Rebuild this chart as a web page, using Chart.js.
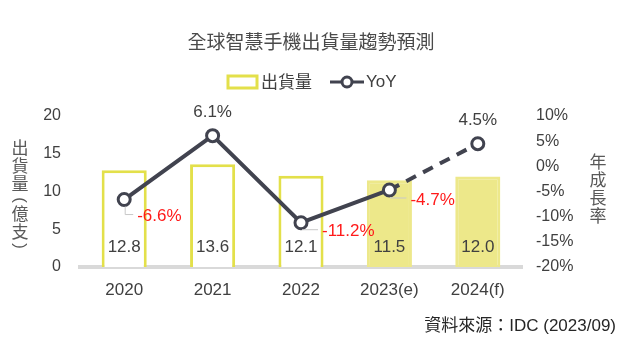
<!DOCTYPE html>
<html>
<head>
<meta charset="utf-8">
<script src="https://cdn.jsdelivr.net/npm/chart.js@4.4.0/dist/chart.umd.min.js"></script>
<style>
  html, body { margin: 0; padding: 0; background: #fff; }
  #wrap { width: 623px; height: 345px; }
</style>
</head>
<body>
<div id="wrap"><canvas id="chart" width="623" height="345"></canvas></div>
<script>
// data
const categories = ['2020', '2021', '2022', '2023(e)', '2024(f)'];
const shipments = [12.8, 13.6, 12.1, 11.5, 12.0];   // 億支
const yoy = [-6.6, 6.1, -11.2, -4.7, 4.5];          // %
const forecastFrom = 3;  // bars from this index are estimates (filled)

const FONT = '"Liberation Sans", Arial, "Noto Sans CJK TC", sans-serif';
const CJK = '"Noto Sans CJK TC", "Liberation Sans", sans-serif';
const YELLOW = '#e3e04a';
const YELLOW_FILL = '#ede88a';
const DARK = '#41434f';
const TEXT = '#404040';
const RED = '#ff1a1a';

// offsets for the red (negative) yoy labels, per point
const negOffsets = { 0: [13, 17], 2: [21, 9], 3: [21, 10] };

const decorPlugin = {
    id: 'decor',
    afterDatasetsDraw(chart) {
        const ctx = chart.ctx;
        ctx.save();

        // bar values
        const barMeta = chart.getDatasetMeta(1);
        ctx.font = '17px ' + FONT;
        ctx.fillStyle = TEXT;
        ctx.textAlign = 'center';
        ctx.textBaseline = 'middle';
        barMeta.data.forEach((bar, i) => {
            ctx.fillText(shipments[i].toFixed(1), bar.x, chart.chartArea.bottom - 20);
        });

        // yoy labels
        const lineMeta = chart.getDatasetMeta(0);
        lineMeta.data.forEach((pt, i) => {
            const v = yoy[i];
            const txt = v.toFixed(1) + '%';
            if (v >= 0) {
                ctx.fillStyle = TEXT;
                ctx.textAlign = 'center';
                ctx.fillText(txt, pt.x, pt.y - 23);
            } else {
                const [dx, dy] = negOffsets[i] || [20, 10];
                // leader line
                ctx.strokeStyle = '#c8c8c8';
                ctx.lineWidth = 1;
                ctx.beginPath();
                ctx.moveTo(pt.x + 1, pt.y + 7);
                ctx.lineTo(pt.x + 1, pt.y + dy - 2);
                ctx.lineTo(pt.x + dx - 4, pt.y + dy - 2);
                ctx.stroke();
                ctx.fillStyle = RED;
                ctx.textAlign = 'left';
                ctx.fillText(txt, pt.x + dx, pt.y + dy);
            }
        });
        ctx.restore();
    },
    afterDraw(chart) {
        const ctx = chart.ctx;
        ctx.save();
        ctx.textBaseline = 'middle';

        // title
        ctx.fillStyle = '#4a4a4a';
        ctx.font = '19px ' + CJK;
        ctx.textAlign = 'center';
        ctx.fillText('全球智慧手機出貨量趨勢預測', 311, 42);

        // legend
        ctx.strokeStyle = YELLOW;
        ctx.lineWidth = 3;
        ctx.fillStyle = '#fff';
        ctx.fillRect(228, 76, 29, 12);
        ctx.strokeRect(228, 76, 29, 12);
        ctx.fillStyle = TEXT;
        ctx.font = '17px ' + CJK;
        ctx.textAlign = 'left';
        ctx.fillText('出貨量', 261, 82);
        ctx.strokeStyle = DARK;
        ctx.lineWidth = 3;
        ctx.beginPath();
        ctx.moveTo(330, 82);
        ctx.lineTo(364, 82);
        ctx.stroke();
        ctx.beginPath();
        ctx.arc(347, 82, 5, 0, Math.PI * 2);
        ctx.fillStyle = '#fff';
        ctx.fill();
        ctx.stroke();
        ctx.fillStyle = TEXT;
        ctx.font = '17px ' + FONT;
        ctx.fillText('YoY', 366, 82);

        // vertical axis titles (parentheses turned sideways)
        ctx.textAlign = 'center';
        ctx.font = '17px ' + CJK;
        ctx.fillStyle = '#595959';
        const leftTitle = ['出', '貨', '量', '(', '億', '支', ')'];
        const leftY = [148, 166, 184, 200, 214, 232, 246];
        leftTitle.forEach((c, i) => {
            if (c === '(' || c === ')') {
                ctx.save();
                ctx.translate(20, leftY[i]);
                ctx.rotate(Math.PI / 2);
                ctx.font = '17px ' + FONT;
                ctx.fillText(c, 0, 0);
                ctx.restore();
            } else {
                ctx.fillText(c, 20, leftY[i]);
            }
        });
        const rightTitle = ['年', '成', '長', '率'];
        rightTitle.forEach((c, i) => ctx.fillText(c, 598, 162 + i * 18));

        // source
        ctx.fillStyle = '#262626';
        ctx.textAlign = 'right';
        ctx.font = '17px ' + FONT;
        ctx.fillText('資料來源：IDC (2023/09)', 616, 326);
        ctx.restore();
    }
};

new Chart(document.getElementById('chart'), {
    data: {
        labels: categories,
        datasets: [
            {
                type: 'line',
                label: 'YoY',
                data: yoy,
                yAxisID: 'y1',
                order: 0,
                borderColor: DARK,
                borderWidth: 4,
                pointRadius: 6,
                pointBorderWidth: 3,
                pointBackgroundColor: '#fff',
                pointBorderColor: DARK,
                segment: {
                    borderDash: c => c.p0DataIndex >= forecastFrom ? [11, 8] : undefined
                }
            },
            {
                type: 'bar',
                label: '出貨量',
                data: shipments,
                yAxisID: 'y',
                order: 1,
                backgroundColor: shipments.map((v, i) => i >= forecastFrom ? YELLOW_FILL : '#fff'),
                borderColor: shipments.map((v, i) => i >= forecastFrom ? YELLOW_FILL : YELLOW),
                borderWidth: 3,
                barPercentage: 0.6,
                categoryPercentage: 0.85
            }
        ]
    },
    options: {
        responsive: false,
        animation: false,
        layout: { padding: { top: 116, left: 0, right: 0, bottom: 0 } },
        plugins: {
            legend: { display: false },
            tooltip: { enabled: false }
        },
        scales: {
            x: {
                grid: { display: false, drawTicks: false },
                border: { display: true, color: '#d9d9d9', width: 4 },
                ticks: { color: TEXT, font: { size: 17, family: FONT }, padding: 13 },
                afterFit: s => { s.height = 78; }
            },
            y: {
                position: 'left',
                min: 0, max: 20,
                grid: { display: false, drawTicks: false },
                border: { display: false },
                ticks: { stepSize: 5, color: TEXT, font: { size: 16, family: FONT }, padding: 19 },
                afterFit: s => { s.width = 80; }
            },
            y1: {
                position: 'right',
                min: -20, max: 10,
                grid: { display: false, drawTicks: false },
                border: { display: false },
                ticks: {
                    stepSize: 5, color: TEXT, font: { size: 16, family: FONT }, padding: 14,
                    callback: v => v + '%'
                },
                afterFit: s => { s.width = 101; }
            }
        }
    },
    plugins: [decorPlugin]
});
</script>
</body>
</html>
